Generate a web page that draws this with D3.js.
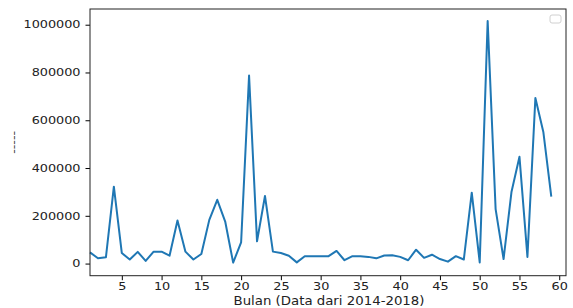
<!DOCTYPE html>
<html>
<head>
<meta charset="utf-8">
<script src="https://cdn.jsdelivr.net/npm/d3@7"></script>
<style>
  html, body { margin: 0; padding: 0; background: #fff; }
  svg { display: block; font-family: "DejaVu Sans", sans-serif; }
</style>
</head>
<body>
<svg id="chart" width="573" height="308"></svg>
<script>
// ---- data ----
const months = [1,2,3,4,5,6,7,8,9,10,11,12,13,14,15,16,17,18,19,20,
  21,22,23,24,25,26,27,28,29,30,31,32,33,34,35,36,37,38,39,40,
  41,42,43,44,45,46,47,48,49,50,51,52,53,54,55,56,57,58,59];
const values = [47000,22000,26000,322000,44000,17000,49000,11000,50000,50000,
  33000,180000,50000,17000,40000,183000,267000,176000,4000,89000,
  787000,93000,283000,50000,44000,33000,5000,31000,31000,31000,
  31000,53000,14000,31000,31000,28000,22000,34000,35000,28000,
  14000,58000,24000,37000,19000,8000,31000,17000,297000,5000,
  1015000,228000,19000,301000,447000,28000,693000,551000,280000];
const xTicks = [5,10,15,20,25,30,35,40,45,50,55,60];
const yTicks = [0,200000,400000,600000,800000,1000000];
const xLabel = "Bulan (Data dari 2014-2018)";
const yLabel = "-----";

// ---- layout ----
const L = 90, R = 566, T = 9, B = 275.7;
const svg = d3.select("#chart");
const STRETCH = 1.28;

const x = d3.scaleLinear().domain([1, 60.85]).range([L, R]);
const ymin = d3.min(values), ymax = d3.max(values);
const pad = (ymax - Math.min(0, ymin)) * 0.05;
const y = d3.scaleLinear().domain([Math.min(0, ymin) - pad, ymax + pad]).range([B, T]);

function stretchText(sel, k) {
  sel.each(function() {
    const len = this.getComputedTextLength();
    d3.select(this).attr("textLength", len * k).attr("lengthAdjust", "spacingAndGlyphs");
  });
}

// line
const line = d3.line().x((d, i) => x(months[i])).y(d => y(d));
svg.append("path")
  .datum(values)
  .attr("d", line)
  .attr("fill", "none")
  .attr("stroke", "#1f77b4")
  .attr("stroke-width", 2)
  .attr("stroke-linejoin", "round")
  .attr("stroke-linecap", "butt");

// axes
const xAxis = svg.append("g")
  .attr("transform", `translate(0,${B})`)
  .call(d3.axisBottom(x).tickValues(xTicks).tickSize(4.5).tickPadding(3).tickSizeOuter(0));
const yAxis = svg.append("g")
  .attr("transform", `translate(${L},0)`)
  .call(d3.axisLeft(y).tickValues(yTicks).tickSize(4.5).tickPadding(5).tickSizeOuter(0).tickFormat(d3.format("d")));

[xAxis, yAxis].forEach(g => {
  g.select(".domain").remove();
  g.selectAll(".tick line").attr("stroke", "#000").attr("stroke-width", 1);
  g.selectAll(".tick text").attr("fill", "#222").attr("font-size", 10)
    .attr("font-family", "DejaVu Sans");
});
xAxis.selectAll(".tick text").attr("dy", "0.71em");
stretchText(xAxis.selectAll(".tick text"), STRETCH);
stretchText(yAxis.selectAll(".tick text"), STRETCH);

// frame (spines)
svg.append("rect")
  .attr("x", L).attr("y", T)
  .attr("width", R - L).attr("height", B - T)
  .attr("fill", "none").attr("stroke", "#222").attr("stroke-width", 1);

// empty legend box
svg.append("rect")
  .attr("x", 550).attr("y", 15).attr("width", 11).attr("height", 8)
  .attr("rx", 2).attr("fill", "#fff").attr("stroke", "#d0d0d0").attr("stroke-width", 1);

// x label
const xl = svg.append("text")
  .attr("x", (L + R) / 2 + 1).attr("y", 305)
  .attr("text-anchor", "middle")
  .attr("font-size", 11.4).attr("fill", "#222")
  .text(xLabel);
xl.attr("textLength", 191).attr("lengthAdjust", "spacingAndGlyphs");

// y label
svg.append("text")
  .attr("transform", `translate(17,${(T + B) / 2}) rotate(-90)`)
  .attr("text-anchor", "middle")
  .attr("font-size", 10).attr("fill", "#333")
  .attr("textLength", 23).attr("lengthAdjust", "spacingAndGlyphs")
  .text(yLabel);
</script>
</body>
</html>
